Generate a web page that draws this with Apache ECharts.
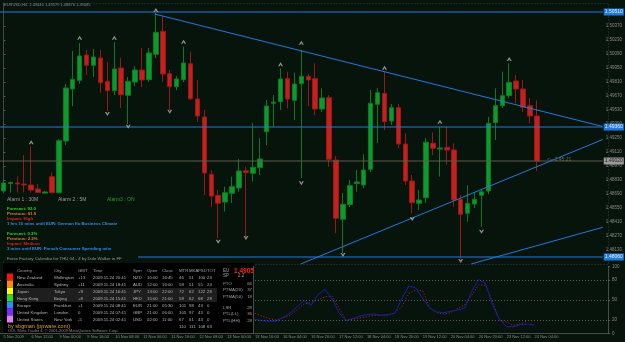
<!DOCTYPE html>
<html>
<head>
<meta charset="utf-8">
<script src="https://cdn.jsdelivr.net/npm/echarts@6/dist/echarts.min.js"></script>
<style>
html, body { margin: 0; padding: 0; background: #07140c; }
#main { width: 625px; height: 342px; }
</style>
</head>
<body>
<div id="main"></div>
<script>
// EURUSD H4 - candles are [open, close, low, high]
var candles = [
	[1.4872, 1.4880, 1.4870, 1.4883], [1.48795, 1.48805, 1.48705, 1.48815], [1.4880, 1.4879, 1.48705, 1.48865],
	[1.4879, 1.4878, 1.48705, 1.4908], [1.4878, 1.4873, 1.48705, 1.49165], [1.4874, 1.48705, 1.4870, 1.4879],
	[1.4869, 1.4871, 1.4868, 1.4872], [1.48863, 1.48703, 1.4869, 1.48903], [1.48703, 1.49223, 1.4869, 1.4924],
	[1.4922, 1.4975, 1.4918, 1.4979], [1.4974, 1.49837, 1.4957, 1.5012], [1.49827, 1.5007, 1.4979, 1.5020],
	[1.5008, 1.49977, 1.4988, 1.5013], [1.49977, 1.5006, 1.4986, 1.5014], [1.5005, 1.49803, 1.49703, 1.5013],
	[1.49817, 1.49723, 1.4952, 1.50013], [1.49723, 1.4994, 1.4968, 1.5021], [1.4995, 1.49683, 1.4955, 1.50053],
	[1.49677, 1.49817, 1.4939, 1.4986], [1.4981, 1.4993, 1.4977, 1.4997], [1.4993, 1.4983, 1.4976, 1.5015],
	[1.49833, 1.5010, 1.4981, 1.5015], [1.50087, 1.50307, 1.5005, 1.5050], [1.50317, 1.4989, 1.49813, 1.50463],
	[1.49893, 1.49763, 1.4953, 1.4993], [1.49763, 1.4984, 1.4973, 1.4987], [1.49833, 1.5000, 1.4981, 1.50163],
	[1.49993, 1.49643, 1.4963, 1.50113], [1.4964, 1.4947, 1.4941, 1.4983], [1.4946, 1.4890, 1.4868, 1.4953],
	[1.48887, 1.4867, 1.4856, 1.4893], [1.48677, 1.48597, 1.4825, 1.4873], [1.4861, 1.48703, 1.48513, 1.48763],
	[1.48697, 1.48763, 1.4860, 1.48863], [1.4875, 1.4892, 1.48713, 1.4904], [1.48923, 1.48903, 1.48263, 1.48963],
	[1.48897, 1.48957, 1.48813, 1.4940], [1.48953, 1.4904, 1.4888, 1.49247], [1.49313, 1.4957, 1.4918, 1.4963],
	[1.49597, 1.4961, 1.49363, 1.4968], [1.49613, 1.4984, 1.4953, 1.49947], [1.49843, 1.4964, 1.49547, 1.49913],
	[1.49627, 1.4979, 1.4943, 1.49903], [1.49793, 1.49867, 1.4885, 1.5013], [1.49867, 1.4983, 1.4957, 1.4989],
	[1.49843, 1.4954, 1.4948, 1.49997], [1.4954, 1.4965, 1.4951, 1.49747], [1.49653, 1.49037, 1.48963, 1.4968],
	[1.4903, 1.48447, 1.48297, 1.4907], [1.48437, 1.48587, 1.4810, 1.4870], [1.48583, 1.48773, 1.4856, 1.4883],
	[1.48795, 1.4881, 1.48713, 1.4893], [1.4878, 1.4893, 1.48747, 1.49087], [1.48937, 1.49597, 1.4891, 1.4973],
	[1.49587, 1.49703, 1.4920, 1.4975], [1.49697, 1.49413, 1.4933, 1.49913], [1.4942, 1.49553, 1.4938, 1.4959],
	[1.49553, 1.4919, 1.49147, 1.4959], [1.4919, 1.4882, 1.4878, 1.49297], [1.4882, 1.48603, 1.48497, 1.4888],
	[1.48597, 1.4863, 1.4853, 1.4873], [1.48653, 1.49207, 1.4860, 1.4925], [1.49197, 1.49147, 1.4908, 1.49303],
	[1.4914, 1.4915, 1.48863, 1.49363], [1.49157, 1.4913, 1.48983, 1.49363], [1.4913, 1.4863, 1.48563, 1.49197],
	[1.48637, 1.48487, 1.48047, 1.4868], [1.48497, 1.48597, 1.48413, 1.4878], [1.4859, 1.48637, 1.4855, 1.4871],
	[1.48677, 1.48713, 1.48363, 1.4873], [1.4872, 1.49397, 1.4869, 1.49463], [1.49403, 1.49573, 1.4923, 1.49747],
	[1.49573, 1.49673, 1.4955, 1.49913], [1.49673, 1.49807, 1.4965, 1.49997], [1.4982, 1.4974, 1.49597, 1.4988],
	[1.4974, 1.49557, 1.4951, 1.4983], [1.49573, 1.4947, 1.49397, 1.4965], [1.4947, 1.4902, 1.4892, 1.49627]
];
var slotCount = 87; // chart keeps some empty bars on the right
var timeLabels = ['5 Nov 2009', '6 Nov 12:00', '9 Nov 00:00', '9 Nov 16:00', '10 Nov 08:00', '11 Nov 00:00',
	'11 Nov 16:00', '12 Nov 08:00', '13 Nov 00:00', '13 Nov 16:00', '16 Nov 04:00', '16 Nov 20:00',
	'17 Nov 12:00', '18 Nov 04:00', '18 Nov 20:00', '19 Nov 12:00', '20 Nov 04:00', '20 Nov 20:00',
	'23 Nov 12:00', '24 Nov 04:00'];
var priceTicks = [1.5037, 1.5023, 1.5009, 1.4995, 1.4981, 1.4967, 1.4953, 1.4939, 1.4925, 1.4911,
	1.4897, 1.4883, 1.4869, 1.4855, 1.4841, 1.4827, 1.4813];
var levelLines = [1.5051, 1.4936, 1.4806];
var bidLine = 1.4902;
var trendA = [[21.8, 1.5049], [86.5, 1.49365]];
var trendB = [[42.9, 1.4799], [86.5, 1.49235]];
var trendC = [[67.5, 1.4799], [86.5, 1.48357]];
var fractalUp = [[4, 1.49207], [11, 1.50253], [16, 1.50253], [22, 1.5053], [26, 1.50213], [40, 1.49987],
	[43, 1.50203], [55, 1.49953], [63, 1.49413], [73, 1.5004]];
var fractalDown = [[15, 1.4949], [18, 1.49363], [24, 1.49513], [31, 1.48213], [35, 1.4825], [43, 1.48797],
	[49, 1.4808], [59, 1.4844], [66, 1.4802], [69, 1.48313]];

// oscillator, starts at bar 34
var oscStart = 34;
var oscMain = [30, 24, 21, 19, 18, 18, 24, 30, 40, 49, 42, 58, 66, 52, 31, 19, 22, 26, 28, 29, 27, 28, 30, 52,
	71, 68, 52, 38, 32, 31, 33, 35, 38, 63, 81, 74, 42, 20, 10, 10, 13, 14, 12];
var oscSignal = [38, 33, 30, 26, 22, 20, 23, 27, 35, 44, 46, 50, 55, 56, 38, 20, 21, 23, 25, 27, 27, 27, 31, 40,
	60, 65, 64, 38, 31, 29, 31, 37, 43, 57, 73, 72, 46, 20, 17, 12, 14, 19, 19];
var oscLevels = [20, 50, 80];
var oscTicks = [0, 20, 50, 80, 100];

// sessions table
var headers = ['Country', 'City', 'GMT', 'Time', 'Sym', 'Open', 'Close', 'MTR', 'MKA', 'PSD', 'TOT'];
var markets = [
	['New Zealand', 'Wellington', '+13', '2009.11.24 20:41', 'NZD', '10:00', '16:45', '46', '51', '100', '24'],
	['Australia', 'Sydney', '+11', '2009.11.24 18:41', 'AUD', '12:00', '16:00', '58', '51', '55', '24'],
	['Japan', 'Tokyo', '+9', '2009.11.24 16:41', 'JPY', '13:00', '22:00', '72', '62', '122', '28'],
	['Hong Kong', 'Beijing', '+8', '2009.11.24 15:41', 'HKD', '15:00', '21:00', '58', '62', '68', '28'],
	['Europe', 'Frankfurt', '+1', '2009.11.24 08:41', 'EUR', '21:00', '05:30', '101', '98', '43', '0'],
	['United Kingdom', 'London', '0', '2009.11.24 07:41', 'GBP', '21:00', '06:00', '105', '97', '43', '0'],
	['United States', 'New York', '-5', '2009.11.24 02:41', 'USD', '02:00', '11:00', '67', '61', '43', '0']
];
var totals = ['110', '111', '108', '63'];
var marketColors = ['#ff1010', '#ff8a00', '#ffff00', '#20e020', '#2a8cff', '#7a2aff', '#e080f0'];
var stats = [['PTO', '66'], ['PTMA(20)', '37'], ['PTMA(50)', '18'], ['LSR', '28'], ['PTL(LL)', '36'], ['PTL(HH)', '28']];

var news = [
	['Forecast: 92.0', '#30d030'], ['Previous: 91.9', '#e08020'], ['Impact: High', '#e02020'],
	['1 hrs 10 mins until EUR: German Ifo Business Climate', '#2a90e8'], ['', ''],
	['Forecast: 0.3%', '#30d030'], ['Previous: 2.3%', '#e08020'], ['Impact: Medium', '#e02020'],
	['3 mins until EUR: French Consumer Spending m/m', '#2a90e8']
];

var BG = '#07140c';
var FONT = '"Liberation Sans", Arial, sans-serif';
var BLUE = '#1e7ae0';

var categories = [];
for (var i = 0; i < slotCount; i++) categories.push(String(i));

function pad(arr) {
	var out = [];
	for (var i = 0; i < oscStart; i++) out.push(null);
	return out.concat(arr);
}

function txt(x, y, s, color, size, align, bold) {
	return {
		type: 'text', x: x, y: y, z: 120, silent: true,
		style: {
			text: s, fill: color, align: align || 'left', verticalAlign: 'middle',
			font: (bold ? 'bold ' : '') + size + 'px ' + FONT
		}
	};
}

var graphics = [];
// main panel dotted frame
graphics.push({ type: 'rect', z: 1, silent: true, shape: { x: 3.5, y: 3.5, width: 605, height: 261 },
	style: { fill: null, stroke: '#3a3a3a', lineWidth: 1, lineDash: [1, 2] } });
// info box over the left bottom of main chart
graphics.push({ type: 'rect', z: 100, silent: true, shape: { x: 0, y: 193.5, width: 138, height: 69 }, style: { fill: BG } });
graphics.push(txt(4, 4.5, 'EURUSD,H4  1.49446 1.49579 1.48876 1.49085', '#8a8a8a', 4));
graphics.push(txt(7, 200, 'Alarm 1 : 30M', '#9a9a9a', 5));
graphics.push(txt(58, 200, 'Alarm 2 : 5M', '#9a9a9a', 5));
graphics.push(txt(107, 200, 'Alarm3 : ON', '#20a030', 5));
for (var n = 0; n < news.length; n++) {
	if (news[n][0]) graphics.push(txt(7, 208.5 + n * 5, news[n][0], news[n][1], 4.3, 'left', true));
}
graphics.push(txt(7, 259, 'Forex Factory Calendar for THU 04 - 4 by Dule Walker in FF', '#9a9a9a', 4.3));
graphics.push(txt(547, 159.5, '<-- 2:45:21', '#6a6a50', 5));

// sessions table
graphics.push({ type: 'rect', z: 100, silent: true, shape: { x: 3, y: 263, width: 251, height: 70 }, style: { fill: '#000' } });
graphics.push({ type: 'rect', z: 101, silent: true, shape: { x: 15, y: 288, width: 202, height: 14 }, style: { fill: '#1e1e1e' } });
graphics.push({ type: 'line', z: 101, silent: true, shape: { x1: 253.5, y1: 266, x2: 253.5, y2: 333 }, style: { stroke: '#4a4a4a' } });
var colX = [17, 54, 78, 93, 133, 147, 162, 179, 189, 198, 207];
for (var h = 0; h < headers.length; h++) graphics.push(txt(colX[h], 271, headers[h], '#a0a0a0', 4.3));
for (var r = 0; r < markets.length; r++) {
	graphics.push({ type: 'rect', z: 101, silent: true, shape: { x: 7, y: 273.5 + r * 7, width: 6, height: 7 },
		style: { fill: marketColors[r] } });
	for (var c = 0; c < markets[r].length; c++) {
		graphics.push(txt(colX[c], 277.5 + r * 7, markets[r][c], '#b4b4b4', 4.3));
	}
}
for (var t = 0; t < totals.length; t++) graphics.push(txt(colX[7 + t], 326.5, totals[t], '#b4b4b4', 4.3));
graphics.push(txt(8, 326.5, 'by sbgman (ppware.com)', '#e0a020', 5.5));
graphics.push(txt(8, 331, 'OOL Meta Trader 4, \u00a9 2001-2009 MetaQuotes Software Corp.', '#8a8a8a', 4));
graphics.push(txt(223, 271, 'EU', '#a0a0a0', 4.5));
graphics.push(txt(234, 271, '1.4905', '#ff2020', 6.5, 'left', true));
graphics.push(txt(223, 276, 'SP', '#a0a0a0', 4.5));
graphics.push(txt(238, 276, '2.2', '#a0a0a0', 4.5));
var statY = [284.3, 290, 296.7, 307.7, 314.3, 321];
for (var s = 0; s < stats.length; s++) {
	graphics.push(txt(223, statY[s], stats[s][0], '#a0a0a0', 4.3));
	graphics.push(txt(252, statY[s], stats[s][1], '#a0a0a0', 4.3, 'right'));
}

function level(name, v, color, labelBg, labelColor) {
	return {
		name: name, type: 'line', xAxisIndex: 2, yAxisIndex: 0,
		data: [[-0.5, v], [slotCount - 0.5, v]],
		symbol: 'none', silent: true, z: 4,
		lineStyle: { color: color, width: 1 },
		endLabel: {
			show: true, distance: 1, fontSize: 5, padding: [1, 1],
			backgroundColor: labelBg, color: labelColor,
			formatter: function (p) { return p.value[1].toFixed(5); }
		}
	};
}

function trend(name, pts) {
	return {
		name: name, type: 'line', xAxisIndex: 2, yAxisIndex: 0, data: pts,
		symbol: 'none', silent: true, z: 5,
		lineStyle: { color: BLUE, width: 1 }
	};
}

var arrowPath = 'path://M5,0 L10,9 L7,9 L5,5 L3,9 L0,9 Z';

var series = [
	{
		name: 'EURUSD', type: 'candlestick', xAxisIndex: 0, yAxisIndex: 0,
		data: candles, barWidth: 5,
		itemStyle: {
			color: '#0c9a2c', color0: '#c4201c',
			borderColor: '#0a7a22', borderColor0: '#9a1814', borderWidth: 1
		}
	}
];
levelLines.forEach(function (v, i) { series.push(level('level' + i, v, BLUE, BLUE, '#e8f0ff')); });
series.push(level('bid', bidLine, '#5c5a48', '#9a9a9a', '#202020'));
series.push(trend('trendA', trendA), trend('trendB', trendB), trend('trendC', trendC));
series.push({
	name: 'up', type: 'scatter', xAxisIndex: 2, yAxisIndex: 0, data: fractalUp,
	symbol: arrowPath, symbolSize: [5, 4], itemStyle: { color: '#b0b0b8' }, silent: true, z: 6
});
series.push({
	name: 'down', type: 'scatter', xAxisIndex: 2, yAxisIndex: 0, data: fractalDown,
	symbol: arrowPath, symbolRotate: 180, symbolSize: [5, 4], itemStyle: { color: '#b0b0b8' }, silent: true, z: 6
});
series.push({
	name: 'osc', type: 'line', xAxisIndex: 1, yAxisIndex: 1, data: pad(oscMain),
	symbol: 'none', lineStyle: { color: '#1a1cb0', width: 1 }, silent: true, z: 4,
	markLine: {
		silent: true, symbol: 'none', label: { show: false },
		lineStyle: { color: '#5a5a5a', type: [1, 2], width: 1 },
		data: oscLevels.map(function (v) { return { yAxis: v }; })
	}
});
series.push({
	name: 'signal', type: 'line', xAxisIndex: 1, yAxisIndex: 1, data: pad(oscSignal),
	symbol: 'none', lineStyle: { color: '#c42020', width: 1, type: [1, 2] }, silent: true, z: 3
});

var option = {
	animation: false,
	backgroundColor: BG,
	textStyle: { fontFamily: FONT },
	graphic: graphics,
	grid: [
		{ left: -2, right: 17, top: 3, height: 261 },
		{ left: -2, right: 17, top: 266.7, height: 66.6 }
	],
	xAxis: [
		{ type: 'category', gridIndex: 0, data: categories, show: false },
		{
			type: 'category', gridIndex: 1, data: categories,
			axisLine: { lineStyle: { color: '#4a4a4a' } },
			axisTick: { interval: 3, alignWithLabel: true, length: 2, lineStyle: { color: '#5a5a5a' } },
			axisLabel: {
				interval: 3, align: 'left', margin: 2, fontSize: 4, color: '#8a8a8a',
				formatter: function (v, idx) { return timeLabels[idx / 4] || ''; }
			}
		},
		{ type: 'value', gridIndex: 0, min: -0.5, max: slotCount - 0.5, show: false }
	],
	yAxis: [
		{
			type: 'value', gridIndex: 0, position: 'right', min: 1.4799, max: 1.5060,
			splitLine: { show: false },
			axisLine: { show: true, lineStyle: { color: '#4a4a4a' } },
			axisTick: { show: true, length: 2, customValues: priceTicks, lineStyle: { color: '#5a5a5a' } },
			axisLabel: {
				customValues: priceTicks, fontSize: 4.5, color: '#8a8a8a', margin: 3,
				formatter: function (v) { return v.toFixed(5); }
			}
		},
		{
			type: 'value', gridIndex: 1, position: 'right', min: 0, max: 100,
			splitLine: { show: false },
			axisLine: { show: true, lineStyle: { color: '#4a4a4a' } },
			axisTick: { show: true, length: 2, customValues: oscTicks, lineStyle: { color: '#5a5a5a' } },
			axisLabel: { customValues: oscTicks, fontSize: 4.5, color: '#8a8a8a', margin: 4 }
		}
	],
	series: series
};

var myChart = echarts.init(document.getElementById('main'));
myChart.setOption(option);
</script>
</body>
</html>
